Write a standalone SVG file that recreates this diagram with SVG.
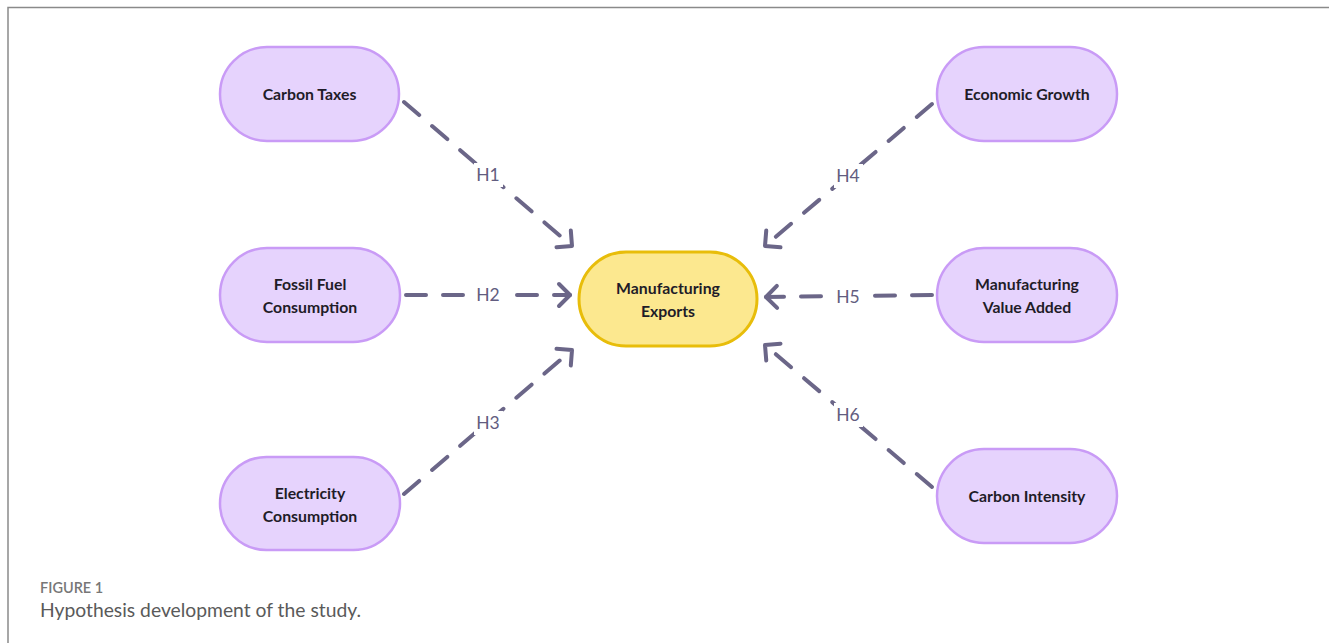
<svg xmlns="http://www.w3.org/2000/svg" width="1329" height="643" viewBox="0 0 1329 643">
<style>
.node rect.p{fill:#e6d3fd;stroke:#c99bf6;stroke-width:2.5}
.node rect.y{fill:#fce88f;stroke:#e8bd0a;stroke-width:3}
.node text{font-family:Lato,"Liberation Sans",sans-serif;font-weight:700;font-size:15.8px;fill:#1f1c28;text-anchor:middle}
.conn line{stroke:#6b6688;stroke-width:4;stroke-linecap:round;stroke-dasharray:20 17;fill:none}
.lbl rect{fill:#fff}
.lbl text{font-family:Lato,"Liberation Sans",sans-serif;font-size:17.5px;fill:#625d80;text-anchor:middle}
</style>
<defs>
<marker id="ah" markerUnits="userSpaceOnUse" viewBox="-16 -16 20 32" refX="0" refY="0" markerWidth="20" markerHeight="32" orient="auto">
<path d="M-11,-11 L0,0 L-11,11" fill="none" stroke="#6b6688" stroke-width="4" stroke-linecap="round" stroke-linejoin="round"/>
</marker>
</defs>
<rect width="1329" height="643" fill="#fff"/>
<path d="M8,643 V7.5 H1329" fill="none" stroke="#8a8a8a" stroke-width="1.5"/>
<g id="connectors" class="conn">
<line x1="404" y1="102" x2="572" y2="246" marker-end="url(#ah)"/>
<line x1="406" y1="295" x2="570" y2="295" marker-end="url(#ah)"/>
<line x1="404" y1="494" x2="572" y2="350" marker-end="url(#ah)"/>
<line x1="932" y1="104" x2="765" y2="246" marker-end="url(#ah)"/>
<line x1="932" y1="295" x2="766" y2="297" marker-end="url(#ah)"/>
<line x1="932" y1="487" x2="765" y2="345" marker-end="url(#ah)"/>
<g class="lbl">
<rect x="474" y="163" width="29" height="24"/><text x="488" y="181">H1</text>
<rect x="474" y="284" width="29" height="22"/><text x="488" y="301">H2</text>
<rect x="474" y="411" width="29" height="24"/><text x="488" y="429">H3</text>
<rect x="834" y="164" width="29" height="24"/><text x="848" y="182">H4</text>
<rect x="834" y="286" width="29" height="22"/><text x="848" y="303">H5</text>
<rect x="834" y="403" width="29" height="24"/><text x="848" y="421">H6</text>
</g>
</g>
<g id="n-carbon-taxes" class="node"><rect class="p" x="220" y="47" width="179" height="94" rx="47"/><text x="309.5" y="99.5">Carbon Taxes</text></g>
<g id="n-fossil" class="node"><rect class="p" x="220" y="248" width="180" height="94" rx="47"/><text x="310" y="289.5">Fossil Fuel</text><text x="310" y="312.5">Consumption</text></g>
<g id="n-electricity" class="node"><rect class="p" x="220" y="457" width="180" height="93" rx="46.5"/><text x="310" y="498.5">Electricity</text><text x="310" y="521.5">Consumption</text></g>
<g id="n-exports" class="node"><rect class="y" x="579" y="252" width="178" height="94" rx="47"/><text x="668" y="293.5">Manufacturing</text><text x="668" y="316.5">Exports</text></g>
<g id="n-growth" class="node"><rect class="p" x="937" y="47" width="180" height="94" rx="47"/><text x="1027" y="99.5">Economic Growth</text></g>
<g id="n-value" class="node"><rect class="p" x="937" y="248" width="180" height="94" rx="47"/><text x="1027" y="289.5">Manufacturing</text><text x="1027" y="312.5">Value Added</text></g>
<g id="n-intensity" class="node"><rect class="p" x="937" y="449" width="180" height="94" rx="47"/><text x="1027" y="501.5">Carbon Intensity</text></g>
<text x="40" y="593" font-family="Lato,'Liberation Sans',sans-serif" font-size="14.5" font-weight="600" fill="#777">FIGURE 1</text>
<text x="40" y="617" font-family="Lato,'Liberation Sans',sans-serif" font-size="19.3" fill="#5a5a5a">Hypothesis development of the study.</text>
</svg>
